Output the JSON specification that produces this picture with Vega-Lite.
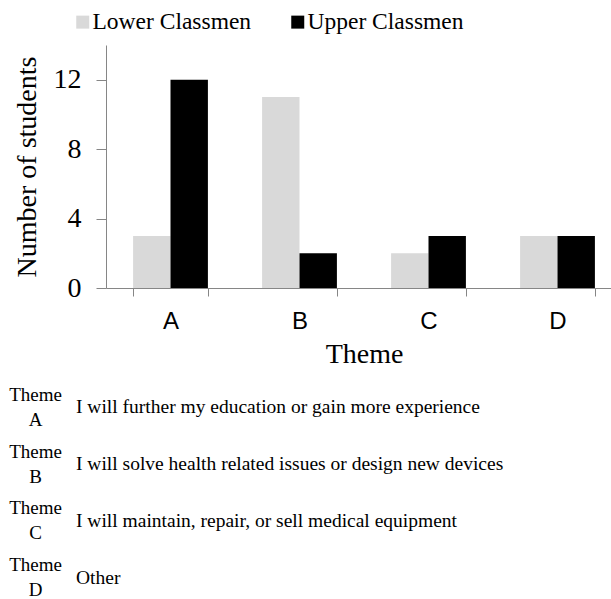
{
  "$schema": "https://vega.github.io/schema/vega-lite/v6.json",
  "padding": {"left": 8, "top": 10, "right": 0, "bottom": 0},
  "background": "white",
  "datasets": {
    "counts": [
      {"Theme": "A", "Group": "Lower Classmen", "Students": 3},
      {"Theme": "A", "Group": "Upper Classmen", "Students": 12},
      {"Theme": "B", "Group": "Lower Classmen", "Students": 11},
      {"Theme": "B", "Group": "Upper Classmen", "Students": 2},
      {"Theme": "C", "Group": "Lower Classmen", "Students": 2},
      {"Theme": "C", "Group": "Upper Classmen", "Students": 3},
      {"Theme": "D", "Group": "Lower Classmen", "Students": 3},
      {"Theme": "D", "Group": "Upper Classmen", "Students": 3}
    ],
    "themes": [
      {"Theme": "A", "Description": "I will further my education or gain more experience"},
      {"Theme": "B", "Description": "I will solve health related issues or design new devices"},
      {"Theme": "C", "Description": "I will maintain, repair, or sell medical equipment"},
      {"Theme": "D", "Description": "Other"}
    ]
  },
  "concat": [
    {
      "width": 516,
      "height": 243,
      "data": {"name": "counts"},
      "mark": {"type": "bar"},
      "encoding": {
        "x": {
          "field": "Theme",
          "type": "nominal",
          "scale": {"paddingInner": 0.42, "paddingOuter": 0.21},
          "axis": {
            "title": "Theme",
            "labelAngle": 0,
            "labelFont": "Liberation Sans",
            "labelFontSize": 24,
            "labelColor": "black",
            "labelPadding": 13,
            "tickBand": "extent",
            "tickSize": 8,
            "tickColor": "#868686",
            "domainColor": "#868686",
            "titleFont": "Liberation Serif",
            "titleFontSize": 28,
            "titleFontWeight": "normal",
            "titleColor": "black",
            "titlePadding": 7
          }
        },
        "xOffset": {"field": "Group", "type": "nominal", "sort": ["Lower Classmen", "Upper Classmen"]},
        "y": {
          "field": "Students",
          "type": "quantitative",
          "scale": {"domain": [0, 14]},
          "axis": {
            "title": "Number of students",
            "values": [0, 4, 8, 12],
            "grid": false,
            "tickSize": 10,
            "tickColor": "#868686",
            "domainColor": "#868686",
            "labelFont": "Liberation Serif",
            "labelFontSize": 28,
            "labelColor": "black",
            "labelPadding": 15,
            "titleFont": "Liberation Serif",
            "titleFontSize": 28,
            "titleFontWeight": "normal",
            "titleColor": "black",
            "titlePadding": 12
          }
        },
        "color": {
          "field": "Group",
          "type": "nominal",
          "scale": {"domain": ["Lower Classmen", "Upper Classmen"], "range": ["#d9d9d9", "#000000"]},
          "legend": {
            "title": null,
            "orient": "none",
            "direction": "horizontal",
            "legendX": -35,
            "legendY": -35,
            "symbolType": "square",
            "symbolSize": 169,
            "symbolStrokeWidth": 0,
            "labelFont": "Liberation Serif",
            "labelFontSize": 23.5,
            "labelColor": "black",
            "labelLimit": 400,
            "labelOffset": -2,
            "columnPadding": 34,
            "padding": 0
          }
        }
      }
    },
    {
      "width": 500,
      "height": 227,
      "data": {"name": "themes"},
      "mark": {"type": "text", "align": "left", "baseline": "middle", "dy": 13, "font": "Liberation Serif", "fontSize": 19.5, "color": "black"},
      "encoding": {
        "y": {
          "field": "Theme",
          "type": "nominal",
          "scale": {"paddingInner": 0, "paddingOuter": 0},
          "axis": {
            "title": null,
            "domain": false,
            "ticks": false,
            "labelExpr": "['Theme', datum.value]",
            "labelAlign": "center",
            "labelBaseline": "middle",
            "labelLineHeight": 25,
            "labelPadding": 71,
            "labelFont": "Liberation Serif",
            "labelFontSize": 19,
            "labelColor": "black"
          }
        },
        "x": {"value": -30},
        "text": {"field": "Description"}
      }
    }
  ],
  "columns": 1,
  "align": "none",
  "spacing": -2,
  "config": {"view": {"stroke": null}}
}
